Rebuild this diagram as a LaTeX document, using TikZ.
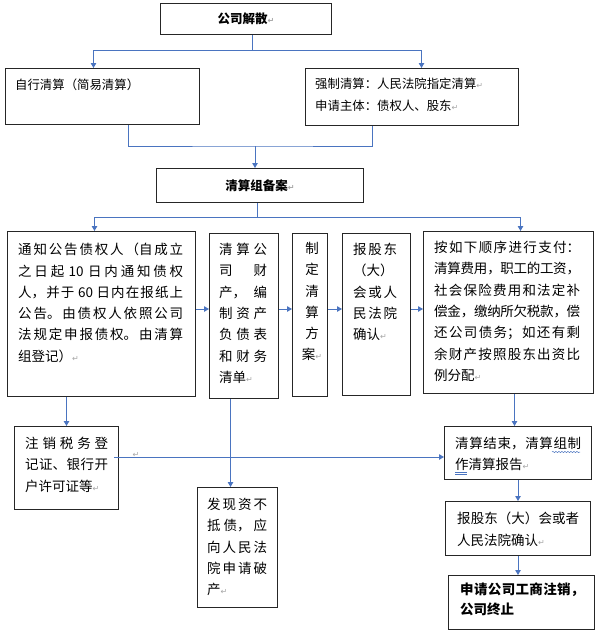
\documentclass[tikz,border=0pt]{standalone}
\usepackage{fontspec}
\setmainfont{Noto Sans CJK SC}
\newfontfamily\symfont{DejaVu Sans}
\usetikzlibrary{arrows.meta,decorations.pathmorphing}
\XeTeXlinebreaklocale "zh"
\XeTeXlinebreakskip=0pt plus 3pt minus 0.4pt
\tolerance=10000
\hbadness=10000
\definecolor{lnblue}{HTML}{4A74C0}
\definecolor{bxline}{HTML}{262626}
\newcommand\pmk{{\symfont\fontsize{8}{8}\selectfont\textcolor{black!35}{↵}}}
\newcommand\mkbox[5]{\node[bx, minimum width=#4-#2, minimum height=#5-#3, anchor=north west] (#1) at (#2,#3) {};}
\tikzset{
  bx/.style={draw=bxline, line width=1pt, rectangle, inner sep=0pt, fill=white},
  conn/.style={draw=lnblue, line width=1pt},
  arr/.style={conn, -{Triangle[length=5pt,width=5.5pt]}},
  txt/.style={anchor=north west, inner sep=0pt, align=justify, font=\fontsize{13.5}{21.3}\selectfont},
  toptxt/.style={anchor=north west, inner sep=0pt, align=left, font=\fontsize{12.4}{22}\selectfont},
  ttl/.style={font=\bfseries\fontsize{12.5}{15}\selectfont}
}
\begin{document}
\begin{tikzpicture}[x=1pt,y=-1pt]
\useasboundingbox[fill=white] (0,0) rectangle (600,635);

% title boxes
\node[bx, ttl, minimum width=171, minimum height=31, anchor=north west] (top) at (160,3) {公司解散\pmk};
\mkbox{self}{5}{68}{199}{124}
\mkbox{force}{305}{68}{518}{125}
\node[bx, ttl, minimum width=207, minimum height=34, anchor=north west] (team) at (156,168) {清算组备案\pmk};

% row boxes
\mkbox{A}{7}{231}{195}{396}
\mkbox{B}{209}{233}{278}{398}
\mkbox{C}{292}{233}{327}{396}
\mkbox{D}{342}{233}{410}{395}
\mkbox{E}{423}{231}{593}{393}
% lower boxes
\mkbox{F}{14}{426}{118}{509}
\mkbox{G}{197}{487}{277}{607}
\mkbox{H}{444}{426}{591}{479}
\mkbox{I}{445}{501}{590}{555}
\mkbox{J}{448}{575}{594}{629}

% texts
\node[toptxt] (selft) at ([shift={(10,11)}]self.north west) {自行清算（简易清算）};
\node[toptxt] (forcet) at ([shift={(10,10)}]force.north west) {强制清算：人民法院指定清算\pmk\\申请主体：债权人、股东\pmk};

\node[txt, text width=165pt] (At) at ([shift={(11,12)}]A.north west) {通知公告债权人（自成立\linebreak 之日起 10 日内通知债权\linebreak 人，并于 60 日内在报纸上\linebreak 公告。由债权人依照公司\linebreak 法规定申报债权。由清算\linebreak 组登记）\pmk};
\node[txt, text width=48pt] (Bt) at ([shift={(10,10)}]B.north west) {清算公\linebreak 司财\linebreak 产，编\linebreak 制资产\linebreak 负债表\linebreak 和财务\linebreak 清单\pmk};
\node[txt, text width=22pt, align=center, anchor=north] (Ct) at ([shift={(2,9)}]C.north) {制\\定\\清\\算\\方\\案\pmk};
\node[txt, text width=44pt] (Dt) at ([shift={(11,10)}]D.north west) {报股东\linebreak （大）\linebreak 会或人\linebreak 民法院\linebreak 确认\pmk};
\node[txt, text width=146pt] (Et) at ([shift={(11,10)}]E.north west) {按如下顺序进行支付：\linebreak 清算费用，职工的工资，\linebreak 社会保险费用和法定补\linebreak 偿金，缴纳所欠税款，偿\linebreak 还公司债务；如还有剩\linebreak 余财产按照股东出资比\linebreak 例分配\pmk};

\node[txt, text width=83pt] (Ft) at ([shift={(11,11)}]F.north west) {注销税务登\linebreak 记证、银行开\linebreak 户许可证等\pmk};
\node[txt, text width=60pt] (Gt) at ([shift={(10,11)}]G.north west) {发现资不\linebreak 抵债，应\linebreak 向人民法\linebreak 院申请破\linebreak 产\pmk};
\node[txt, text width=126pt] (Ht) at ([shift={(11,11)}]H.north west) {清算结束，清算组制\linebreak 作清算报告\pmk};
\node[txt, text width=122pt] (It) at ([shift={(12,11)}]I.north west) {报股东（大）会或者\linebreak 人民法院确认\pmk};
\node[txt, text width=124pt, font=\bfseries\fontsize{13.5}{20}\selectfont] (Jt) at ([shift={(12,8)}]J.north west) {申请公司工商注销，\linebreak 公司终止};

% spell-check marks
\draw[lnblue, line width=0.5pt, decorate, decoration={snake, amplitude=0.6pt, segment length=3pt}] ([shift={(108,26)}]H.north west) -- ([shift={(136,26)}]H.north west);
\draw[lnblue, line width=0.5pt] ([shift={(11,46)}]H.north west) -- ([shift={(23,46)}]H.north west);
\draw[lnblue, line width=0.5pt] ([shift={(11,48)}]H.north west) -- ([shift={(23,48)}]H.north west);

% connectors top
\coordinate (jt) at (252,50);
\draw[conn] (top.south -| jt) -- (jt);
\draw[arr] (jt) -| ([xshift=-9]self.north);
\draw[arr] (jt) -| ([xshift=9.5]force.north);

\coordinate (jm) at (255,146);
\draw[conn] ([xshift=26]self.south) |- (jm) -| ([xshift=-39.5]force.south);
\draw[arr] (jm) -- (jm |- team.north);

\coordinate (jb) at (257,217);
\draw[conn] (team.south -| jb) -- (jb);
\draw[arr] (jb) -| ([xshift=-7]A.north);
\draw[arr] (jb) -| ([xshift=12]E.north);

% row arrows
\coordinate (rowy) at (0,309);
\draw[arr] (A.east |- rowy) -- (B.west |- rowy);
\draw[arr] (B.east |- rowy) -- (C.west |- rowy);
\draw[arr] (C.east |- rowy) -- (D.west |- rowy);
\draw[arr] (D.east |- rowy) -- (E.west |- rowy);

% down arrows
\draw[arr] (F.north |- A.south) -- (F.north);
\draw[arr] ([xshift=-7]G.north |- B.south) -- ([xshift=-7]G.north);
\coordinate (fy) at (0,457);
\draw[arr] ([xshift=-5]F.east |- fy) -- (H.west |- fy);
\node[inner sep=0pt] (stray) at (136,455) {\pmk};
\draw[arr] ([xshift=6]E.south) -- ([xshift=6]E.south |- H.north);
\draw[arr] (H.south) -- (H.south |- I.north);
\draw[arr] (I.south) -- (I.south |- J.north);
\end{tikzpicture}
\end{document}
